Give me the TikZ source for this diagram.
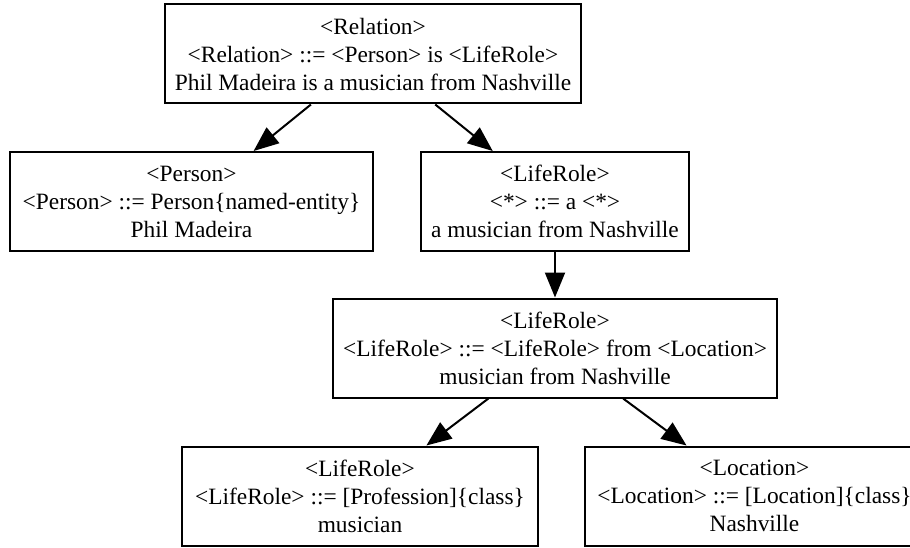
\documentclass[tikz,border=0pt]{standalone}
\usepackage{fontspec}
\setmainfont{Liberation Serif}
\usetikzlibrary{arrows.meta}

\begin{document}
\begin{tikzpicture}[x = 1pt, y = -1pt,
    box/.style  = {draw, rectangle, line width = 2pt, align = center, inner sep = 0pt,
                   minimum height = 99pt, font = \fontsize{23.4}{28}\selectfont},
    link/.style = {-{Triangle[length = 25pt, width = 20pt]}, line width = 2pt}]
          \useasboundingbox (0,0) rectangle (910,548);

          \node[box, minimum width = 416pt] at (373,  54)  (relation) {<Relation>\\<Relation> ::= <Person> is <LifeRole>\\Phil Madeira is a musician from Nashville};
          \node[box, minimum width = 363pt] at (191.5, 201.5) (person) {<Person>\\<Person> ::= Person\{named-entity\}\\Phil Madeira};
          \node[box, minimum width = 268pt] at (555, 201.5) (liferole) {<LifeRole>\\<*> ::= a <*>\\a musician from Nashville};
          \node[box, minimum width = 444pt] at (555, 348)  (lifeloc) {<LifeRole>\\<LifeRole> ::= <LifeRole> from <Location>\\musician from Nashville};
          \node[box, minimum width = 356pt] at (360, 496)  (profession) {<LifeRole>\\<LifeRole> ::= [Profession]\{class\}\\musician};
          \node[box, minimum width = 339pt] at (754.5, 496) (location) {<Location>\\<Location> ::= [Location]\{class\}\\Nashville};

          \draw[link] (relation) -- (person);
          \draw[link] (relation) -- (liferole);
          \draw[link] (liferole) -- (lifeloc);
          \draw[link] (lifeloc)  -- (profession);
          \draw[link] (lifeloc)  -- (location);
        \end{tikzpicture}
\end{document}
